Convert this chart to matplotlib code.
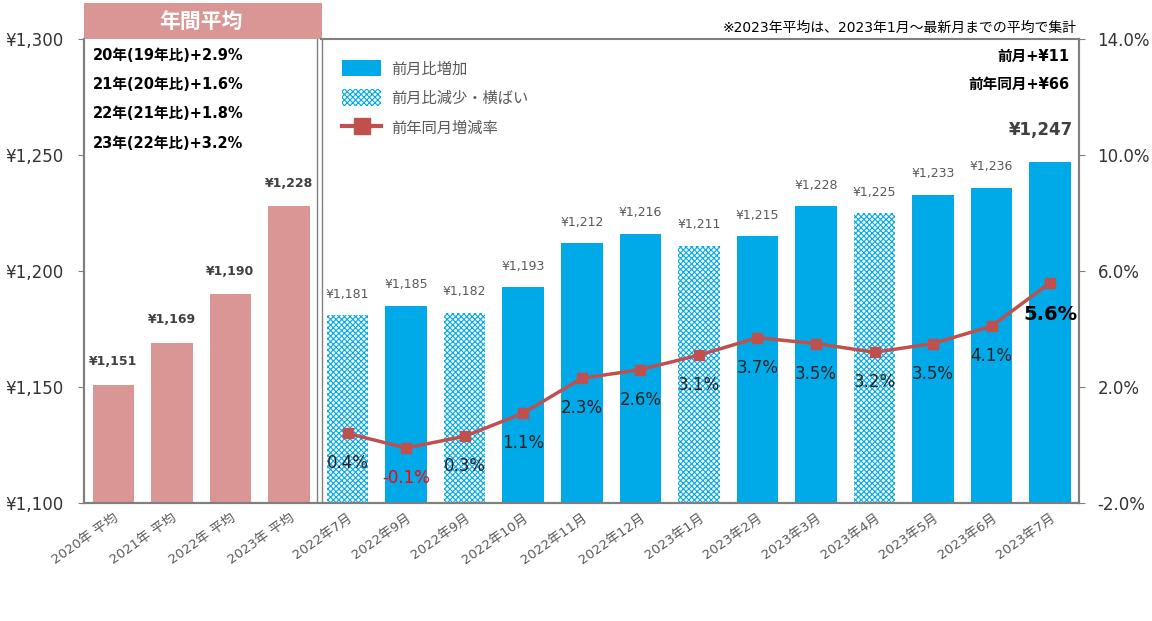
import numpy as np
import matplotlib.pyplot as plt
from matplotlib.patches import Patch, Rectangle
from matplotlib.lines import Line2D

plt.rcParams['font.family'] = ['DejaVu Sans', 'Noto Sans CJK JP']
plt.rcParams['hatch.linewidth'] = 0.8

# データ
labels = ['2020年 平均', '2021年 平均', '2022年 平均', '2023年 平均',
          '2022年7月', '2022年9月', '2022年9月', '2022年10月', '2022年11月',
          '2022年12月', '2023年1月', '2023年2月', '2023年3月', '2023年4月',
          '2023年5月', '2023年6月', '2023年7月']
values = [1151, 1169, 1190, 1228,
          1181, 1185, 1182, 1193, 1212, 1216, 1211, 1215, 1228, 1225, 1233, 1236, 1247]
# 0 = 年間平均, 1 = 前月比増加, 2 = 前月比減少・横ばい
kind = [0, 0, 0, 0, 2, 1, 2, 1, 1, 1, 2, 1, 1, 2, 1, 1, 1]
yoy = [0.4, -0.1, 0.3, 1.1, 2.3, 2.6, 3.1, 3.7, 3.5, 3.2, 3.5, 4.1, 5.6]
yoy_start = 4
annual_notes = ['20年(19年比)+2.9%', '21年(20年比)+1.6%',
                '22年(21年比)+1.8%', '23年(22年比)+3.2%']

blue = '#00A9E8'
pink = '#D99694'
red = '#C0504D'
gray = '#7F7F7F'

fig = plt.figure(figsize=(11.52, 6.21), dpi=100)
ax = fig.add_axes([0.073, 0.19, 0.864, 0.747])
ax2 = ax.twinx()

x = np.arange(len(values))
for i in range(len(values)):
    if kind[i] == 0:
        ax.bar(x[i], values[i], width=0.71, color=pink, zorder=2)
    elif kind[i] == 1:
        ax.bar(x[i], values[i], width=0.71, color=blue, zorder=2)
    else:
        ax.bar(x[i], values[i], width=0.71, facecolor='white', edgecolor=blue,
               hatch='xxxxxx', linewidth=0, zorder=2)

# 棒の上のラベル
for i in range(len(values)):
    txt = '¥{:,}'.format(values[i])
    if i == len(values) - 1:
        ax.annotate(txt, (x[i], values[i]), xytext=(-9, 32), textcoords='offset pixels',
                    ha='center', va='center', fontsize=12, fontweight='bold', color='#404040')
    elif kind[i] == 0:
        ax.annotate(txt, (x[i], values[i]), xytext=(0, 23), textcoords='offset pixels',
                    ha='center', va='center', fontsize=9, fontweight='bold', color='#404040')
    else:
        ax.annotate(txt, (x[i], values[i]), xytext=(0, 21), textcoords='offset pixels',
                    ha='center', va='center', fontsize=9, color='#595959')

ax.set_ylim(1100, 1300)
ax.set_yticks([1100, 1150, 1200, 1250, 1300])
ax.set_yticklabels(['¥{:,}'.format(v) for v in [1100, 1150, 1200, 1250, 1300]],
                   fontsize=12, color='#333333')
ax.set_xlim(-0.5, len(values) - 0.5)
ax.set_xticks(x)
ax.set_xticklabels(labels, rotation=35, ha='right', rotation_mode='anchor',
                   fontsize=9.5, color='#595959')
ax.tick_params(axis='x', length=0, pad=6)
ax.tick_params(axis='y', length=4, color=gray, pad=11)

# 前年同月増減率
xl = x[yoy_start:]
ax2.plot(xl, yoy, color=red, linewidth=2.5, marker='s', markersize=7, zorder=5)
ax2.set_ylim(-2, 14)
ax2.set_yticks([-2, 2, 6, 10, 14])
ax2.set_yticklabels(['{:.1f}%'.format(v) for v in [-2, 2, 6, 10, 14]],
                    fontsize=12, color='#333333')
ax2.tick_params(axis='y', length=4, color=gray, pad=9)
for xi, v in zip(xl, yoy):
    if xi == x[-1]:
        ax2.annotate('{:.1f}%'.format(v), (xi, v), xytext=(0, -32), textcoords='offset pixels',
                     ha='center', va='center', fontsize=14, fontweight='bold', color='black')
    else:
        ax2.annotate('{:.1f}%'.format(v), (xi, v), xytext=(0, -30), textcoords='offset pixels',
                     ha='center', va='center', fontsize=12,
                     color='red' if v < 0 else '#222222')

for a in (ax, ax2):
    for s in a.spines.values():
        s.set_color(gray)
        s.set_linewidth(1.5)
ax.spines['top'].set_visible(False)
ax2.spines['top'].set_visible(False)
ax.axhline(1300, xmin=(3.55 + 0.5) / 17, xmax=1, color=gray, linewidth=1.5, clip_on=False)

# 年間平均と月次の区切り線
ax.axvline(3.47, color=gray, linewidth=1)
ax.axvline(3.56, color=gray, linewidth=1)

# 年間平均の見出し
ax.add_patch(Rectangle((-0.5, 1300), 4.06, 15.5, transform=ax.transData,
                       facecolor=pink, edgecolor='none', clip_on=False))
ax.text(1.5, 1307.5, '年間平均', ha='center', va='center', fontsize=15,
        fontweight='bold', color='white')

for k, t in enumerate(annual_notes):
    ax.text(0.009, 0.965 - k * 0.063, t, transform=ax.transAxes, ha='left', va='center',
            fontsize=10.5, fontweight='bold', color='black')

ax.text(0.997, 1.025, '※2023年平均は、2023年1月～最新月までの平均で集計', transform=ax.transAxes,
        ha='right', va='center', fontsize=10, color='black')
ax.text(0.99, 0.962, '前月+¥11', transform=ax.transAxes, ha='right', va='center',
        fontsize=10.5, fontweight='bold', color='black')
ax.text(0.99, 0.902, '前年同月+¥66', transform=ax.transAxes, ha='right', va='center',
        fontsize=10.5, fontweight='bold', color='black')

handles = [Patch(facecolor=blue, edgecolor='none'),
           Patch(facecolor='white', edgecolor=blue, hatch='xxxxxx', linewidth=0),
           Line2D([], [], color=red, linewidth=3, marker='s', markersize=12)]
leg = ax.legend(handles, ['前月比増加', '前月比減少・横ばい', '前年同月増減率'],
                loc='upper left', bbox_to_anchor=(0.245, 0.985), frameon=False,
                fontsize=11, handlelength=2.6, handleheight=1.3, labelspacing=0.85,
                handletextpad=0.65)
for t in leg.get_texts():
    t.set_color('#595959')

fig.savefig('out.png', dpi=100)
